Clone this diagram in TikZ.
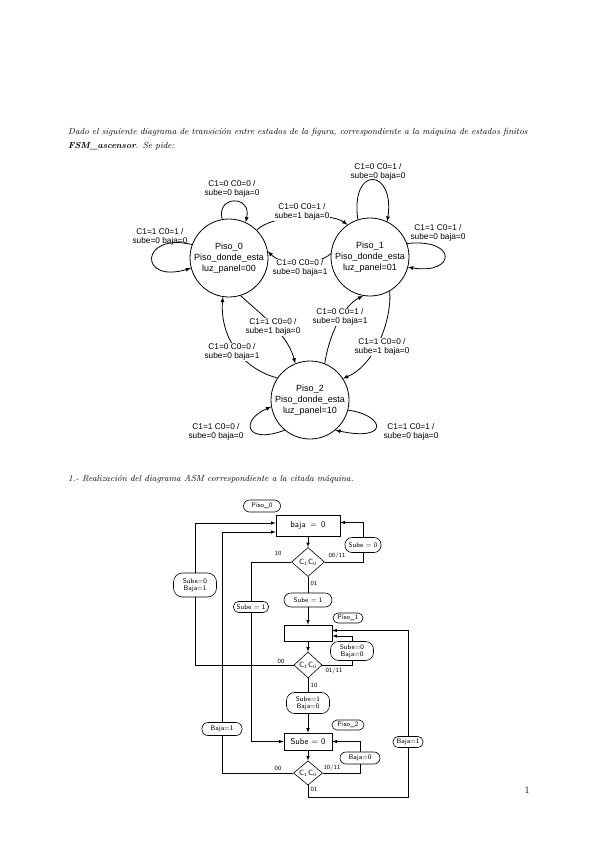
\documentclass[tikz,border=0pt]{standalone}
\usepackage{fontspec}
\newfontfamily\arialfont{Liberation Sans}
\usetikzlibrary{shapes.geometric}

\begin{document}
\begin{tikzpicture}[x=1pt,y=-1pt,>=latex,
  estado/.style={draw,circle,line width=.8pt,minimum size=78pt,inner sep=0pt,align=center,
    font=\arialfont\fontsize{9}{11}\selectfont},
  etq/.style={align=center,inner sep=.5pt,font=\arialfont\fontsize{8.3}{9}\selectfont},
  etqb/.style={etq,fill=white},
  enun/.style={anchor=base west,inner sep=0pt,font=\itshape\fontsize{8.85}{11}\selectfont},
  caja/.style={draw,line width=.6pt,inner sep=0pt,font=\sffamily\fontsize{8.5}{9}\selectfont},
  ovalo/.style={draw,line width=.6pt,rounded corners=5pt,inner sep=0pt,align=center,
    font=\sffamily\fontsize{6.8}{7.2}\selectfont},
  decision/.style={draw,diamond,line width=.6pt,inner sep=0pt,font=\sffamily\fontsize{7.5}{8}\selectfont},
  rama/.style={inner sep=1pt,font=\sffamily\fontsize{6.3}{7}\selectfont},
  flujo/.style={line width=.6pt}]
\useasboundingbox[fill=white] (0,0) rectangle (599,848);

\node[enun] (enun1) at (68,135) {Dado el siguiente diagrama de transición entre estados de la figura, correspondiente a la máquina de estados finitos};
\node[enun] (enun2) at (68,149) {\textbf{FSM\_ascensor}. Se pide:};

% diagrama de estados
\node[estado] (P0) at (229,258) {Piso\_0\\Piso\_donde\_esta\\luz\_panel=00};
\node[estado] (P1) at (370,257) {Piso\_1\\Piso\_donde\_esta\\luz\_panel=01};
\node[estado] (P2) at (310,400) {Piso\_2\\Piso\_donde\_esta\\luz\_panel=10};

\draw[line width=.8pt,->] (P0.100) .. controls (216,195) and (252,195) .. (P0.65);
\draw[line width=.8pt,->] (P0.160) .. controls (140,232) and (138,284) .. (P0.195);
\draw[line width=.8pt,->] (P0.45) .. controls (270,215) and (330,212) .. (P1.125);
\draw[line width=.8pt,->] (P0.-73) .. controls (262,315) and (288,335) .. (P2.112);
\draw[line width=.8pt,->] (P1.108) .. controls (350,165) and (395,168) .. (P1.64);
\draw[line width=.8pt,->] (P1.20) .. controls (458,238) and (456,275) .. (P1.-15);
\draw[line width=.8pt,->] (P1.175) .. controls (318,266) and (282,266) .. (P0.10);
\draw[line width=.8pt,->] (P1.-60) .. controls (392,320) and (375,365) .. (P2.33);
\draw[line width=.8pt,->] (P2.146) .. controls (240,368) and (220,335) .. (P0.-99);
\draw[line width=.8pt,->] (P2.68) .. controls (330,330) and (345,305) .. (P1.-100);
\draw[line width=.8pt,->] (P2.-130) .. controls (245,445) and (240,420) .. (P2.190);
\draw[line width=.8pt,->] (P2.-15) .. controls (385,415) and (390,442) .. (P2.-50);

\node[etq] (tA) at (232,189) {C1=0 C0=0 /\\sube=0 baja=0};
\node[etq] (tB) at (160,237) {C1=1 C0=1 /\\sube=0 baja=0};
\node[etqb] (tC) at (302,212) {C1=0 C0=1 /\\sube=1 baja=0};
\node[etqb] (tD) at (300,268) {C1=0 C0=0 /\\sube=0 baja=1};
\node[etq] (tE) at (378,172) {C1=0 C0=1 /\\sube=0 baja=0};
\node[etq] (tF) at (438,233) {C1=1 C0=1 /\\sube=0 baja=0};
\node[etqb] (tG) at (273,327) {C1=1 C0=0 /\\sube=1 baja=0};
\node[etqb] (tH) at (232,352) {C1=0 C0=0 /\\sube=0 baja=1};
\node[etqb] (tI) at (340,317) {C1=0 C0=1 /\\sube=0 baja=1};
\node[etqb] (tJ) at (382,347) {C1=1 C0=0 /\\sube=1 baja=0};
\node[etq] (tK) at (216,432) {C1=1 C0=0 /\\sube=0 baja=0};
\node[etq] (tL) at (411,432) {C1=1 C0=1 /\\sube=0 baja=0};

\node[enun] (pie) at (68,481) {1.- Realización del diagrama ASM correspondiente a la citada máquina.};

% diagrama ASM
\node[ovalo,minimum width=37pt,minimum height=12pt,rounded corners=6pt] (n0) at (262,506) {Piso\_0};
\node[caja,minimum width=64pt,minimum height=21pt] (baja0) at (308,525.5) {baja \,=\, 0};
\node[decision,minimum width=33pt,minimum height=29pt] (d1) at (308,562) {C$_1$C$_0$};
\node[ovalo,minimum width=36pt,minimum height=15pt,rounded corners=7pt] (s0a) at (363,545) {Sube = 0};
\node[ovalo,minimum width=43pt,minimum height=24pt,rounded corners=9pt] (s0b1) at (195,585) {Sube=0\\Baja=1};
\node[ovalo,minimum width=35pt,minimum height=11pt] (s1a) at (251,607) {Sube = 1};
\node[ovalo,minimum width=48pt,minimum height=14pt,rounded corners=7pt] (s1b) at (308,600) {Sube = 1};
\node[ovalo,minimum width=30pt,minimum height=10pt] (n1) at (348,618) {Piso\_1};
\node[caja,minimum width=48pt,minimum height=16pt] (r1) at (308,633) {};
\node[ovalo,minimum width=43pt,minimum height=19pt,rounded corners=8pt] (s0b0) at (352,651) {Sube=0\\Baja=0};
\node[decision,minimum width=28pt,minimum height=26pt] (d2) at (308,665) {C$_1$C$_0$};
\node[ovalo,minimum width=43pt,minimum height=21pt,rounded corners=8pt] (s1b0) at (308,703) {Sube=1\\Baja=0};
\node[ovalo,minimum width=32pt,minimum height=10pt] (n2) at (348,725) {Piso\_2};
\node[ovalo,minimum width=40pt,minimum height=13pt,rounded corners=6pt] (b1a) at (222,729) {Baja=1};
\node[caja,minimum width=48pt,minimum height=17pt] (s0r) at (308,741.5) {Sube = 0};
\node[ovalo,minimum width=40pt,minimum height=12pt,rounded corners=6pt] (b0) at (360,758) {Baja=0};
\node[ovalo,minimum width=30pt,minimum height=11pt] (b1b) at (408,742) {Baja=1};
\node[decision,minimum width=29pt,minimum height=22pt] (d3) at (308,773) {C$_1$C$_0$};

\draw[flujo,->] (baja0.south) -- (d1.north);
\draw[flujo] (d1.west) -| (s1a.north);
\draw[flujo,->] (s1a.south) |- (s0r.west);
\draw[flujo] (d1.east) -| (s0a.south);
\draw[flujo,->] (s0a.north) |- ([yshift=3pt]baja0.east);
\draw[flujo] (d1.south) -- (s1b.north);
\draw[flujo,->] (s1b.south) -- (r1.north);
\draw[flujo,->] (r1.south) -- (d2.north);
\draw[flujo] (d2.west) -| (s0b1.south);
\draw[flujo,->] (s0b1.north) |- ([yshift=2.5pt]baja0.west);
\draw[flujo] (d2.east) -| (s0b0.south);
\draw[flujo,->] (s0b0.north) |- ([yshift=-3pt]r1.east);
\draw[flujo] (d2.south) -- (s1b0.north);
\draw[flujo,->] (s1b0.south) -- (s0r.north);
\draw[flujo,->] (s0r.south) -- (d3.north);
\draw[flujo] (d3.west) -| (b1a.south);
\draw[flujo,->] (b1a.north) |- ([yshift=-6.5pt]baja0.west);
\draw[flujo] (d3.east) -| (b0.south);
\draw[flujo,->] (b0.north) |- (s0r.east);
\draw[flujo] (d3.south) -- ++(0,12) -| (b1b.south);
\draw[flujo,->] (b1b.north) |- ([yshift=2.5pt]r1.east);

\node[rama] (e10a) at (278,553) {10};
\node[rama] (e0011) at (337,556) {00/11};
\node[rama] (e01a) at (314,583) {01};
\node[rama] (e00b) at (281,661) {00};
\node[rama] (e0111) at (334,671) {01/11};
\node[rama] (e10b) at (314,685) {10};
\node[rama] (e00c) at (278,768) {00};
\node[rama] (e1011) at (332,768) {10/11};
\node[rama] (e01c) at (314,789) {01};

\node[font=\fontsize{10}{12}\selectfont] (pag) at (527,790) {1};
\end{tikzpicture}
\end{document}
